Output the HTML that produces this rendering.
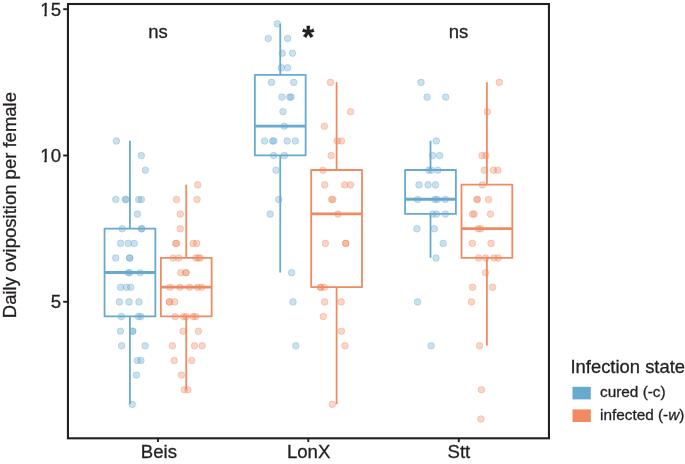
<!DOCTYPE html>
<html><head><meta charset="utf-8"><title>Daily oviposition per female</title>
<style>
html,body{margin:0;padding:0;background:#fff;}
body{width:685px;height:464px;overflow:hidden;font-family:"Liberation Sans",sans-serif;}
svg{display:block;will-change:transform;}
svg text{font-family:"Liberation Sans",sans-serif;fill:#231f20;stroke:#231f20;stroke-width:0.3px;}
</style></head><body>
<svg width="685" height="464" viewBox="0 0 685 464">
<rect x="0" y="0" width="685" height="464" fill="#ffffff"/>
<g stroke="#67a9cf" fill="none" stroke-width="1.8" stroke-linejoin="round"><line x1="129.95" x2="129.95" y1="140.8" y2="228.6"/><line x1="129.95" x2="129.95" y1="316.4" y2="404.2"/><rect x="104.55" y="228.6" width="50.80" height="87.8"/><line x1="104.55" x2="155.35" y1="272.5" y2="272.5" stroke-width="2.9"/></g>
<g stroke="#ef8a62" fill="none" stroke-width="1.8" stroke-linejoin="round"><line x1="186.25" x2="186.25" y1="184.7" y2="257.8"/><line x1="186.25" x2="186.25" y1="316.4" y2="389.5"/><rect x="160.85" y="257.8" width="50.80" height="58.5"/><line x1="160.85" x2="211.65" y1="287.1" y2="287.1" stroke-width="2.9"/></g>
<g stroke="#67a9cf" fill="none" stroke-width="1.8" stroke-linejoin="round"><line x1="280.25" x2="280.25" y1="23.7" y2="74.9"/><line x1="280.25" x2="280.25" y1="155.4" y2="272.5"/><rect x="254.85" y="74.9" width="50.80" height="80.5"/><line x1="254.85" x2="305.65" y1="126.1" y2="126.1" stroke-width="2.9"/></g>
<g stroke="#ef8a62" fill="none" stroke-width="1.8" stroke-linejoin="round"><line x1="336.60" x2="336.60" y1="82.2" y2="170.0"/><line x1="336.60" x2="336.60" y1="287.1" y2="404.2"/><rect x="311.20" y="170.0" width="50.80" height="117.1"/><line x1="311.20" x2="362.00" y1="213.9" y2="213.9" stroke-width="2.9"/></g>
<g stroke="#67a9cf" fill="none" stroke-width="1.8" stroke-linejoin="round"><line x1="430.50" x2="430.50" y1="140.8" y2="170.0"/><line x1="430.50" x2="430.50" y1="213.9" y2="257.8"/><rect x="405.10" y="170.0" width="50.80" height="43.9"/><line x1="405.10" x2="455.90" y1="199.3" y2="199.3" stroke-width="2.9"/></g>
<g stroke="#ef8a62" fill="none" stroke-width="1.8" stroke-linejoin="round"><line x1="486.90" x2="486.90" y1="82.2" y2="184.7"/><line x1="486.90" x2="486.90" y1="257.8" y2="345.6"/><rect x="461.50" y="184.7" width="50.80" height="73.2"/><line x1="461.50" x2="512.30" y1="228.6" y2="228.6" stroke-width="2.9"/></g>
<g fill="#67a9cf" fill-opacity="0.35" stroke="#67a9cf" stroke-opacity="0.35" stroke-width="1.0"><circle cx="116.4" cy="141.0" r="3.3"/><circle cx="141.3" cy="155.6" r="3.3"/><circle cx="145.3" cy="170.2" r="3.3"/><circle cx="115.8" cy="199.5" r="3.3"/><circle cx="125.3" cy="199.5" r="3.3"/><circle cx="126.1" cy="199.5" r="3.3"/><circle cx="138.7" cy="199.5" r="3.3"/><circle cx="141.4" cy="199.5" r="3.3"/><circle cx="137.4" cy="214.1" r="3.3"/><circle cx="122.2" cy="228.8" r="3.3"/><circle cx="141.6" cy="228.8" r="3.3"/><circle cx="141.6" cy="228.8" r="3.3"/><circle cx="120.6" cy="243.4" r="3.3"/><circle cx="128.3" cy="243.4" r="3.3"/><circle cx="134.2" cy="243.4" r="3.3"/><circle cx="115.7" cy="258.0" r="3.3"/><circle cx="129.7" cy="258.0" r="3.3"/><circle cx="129.7" cy="258.0" r="3.3"/><circle cx="128.3" cy="272.7" r="3.3"/><circle cx="129.7" cy="272.7" r="3.3"/><circle cx="140.2" cy="272.7" r="3.3"/><circle cx="120.6" cy="287.3" r="3.3"/><circle cx="126.5" cy="287.3" r="3.3"/><circle cx="130.7" cy="287.3" r="3.3"/><circle cx="119.4" cy="301.9" r="3.3"/><circle cx="129.0" cy="301.9" r="3.3"/><circle cx="139.0" cy="301.9" r="3.3"/><circle cx="121.3" cy="316.6" r="3.3"/><circle cx="138.4" cy="316.6" r="3.3"/><circle cx="140.9" cy="316.6" r="3.3"/><circle cx="120.4" cy="331.2" r="3.3"/><circle cx="132.7" cy="331.2" r="3.3"/><circle cx="132.7" cy="331.2" r="3.3"/><circle cx="121.6" cy="345.8" r="3.3"/><circle cx="145.1" cy="345.8" r="3.3"/><circle cx="137.4" cy="360.5" r="3.3"/><circle cx="140.9" cy="360.5" r="3.3"/><circle cx="136.5" cy="375.1" r="3.3"/><circle cx="132.3" cy="404.4" r="3.3"/></g>
<g fill="#ef8a62" fill-opacity="0.35" stroke="#ef8a62" stroke-opacity="0.35" stroke-width="1.0"><circle cx="197.7" cy="184.9" r="3.3"/><circle cx="176.6" cy="199.5" r="3.3"/><circle cx="197.0" cy="199.5" r="3.3"/><circle cx="180.3" cy="214.1" r="3.3"/><circle cx="180.3" cy="228.8" r="3.3"/><circle cx="175.6" cy="243.4" r="3.3"/><circle cx="176.6" cy="243.4" r="3.3"/><circle cx="193.1" cy="243.4" r="3.3"/><circle cx="196.6" cy="243.4" r="3.3"/><circle cx="173.0" cy="258.0" r="3.3"/><circle cx="178.7" cy="258.0" r="3.3"/><circle cx="195.7" cy="258.0" r="3.3"/><circle cx="198.4" cy="258.0" r="3.3"/><circle cx="200.1" cy="258.0" r="3.3"/><circle cx="180.7" cy="272.7" r="3.3"/><circle cx="186.0" cy="272.7" r="3.3"/><circle cx="186.0" cy="272.7" r="3.3"/><circle cx="170.0" cy="287.3" r="3.3"/><circle cx="180.0" cy="287.3" r="3.3"/><circle cx="189.6" cy="287.3" r="3.3"/><circle cx="197.5" cy="287.3" r="3.3"/><circle cx="201.5" cy="287.3" r="3.3"/><circle cx="169.5" cy="301.9" r="3.3"/><circle cx="169.5" cy="301.9" r="3.3"/><circle cx="174.7" cy="301.9" r="3.3"/><circle cx="175.2" cy="316.6" r="3.3"/><circle cx="183.5" cy="316.6" r="3.3"/><circle cx="186.1" cy="316.6" r="3.3"/><circle cx="193.1" cy="316.6" r="3.3"/><circle cx="195.7" cy="316.6" r="3.3"/><circle cx="183.1" cy="331.2" r="3.3"/><circle cx="198.4" cy="331.2" r="3.3"/><circle cx="172.4" cy="345.8" r="3.3"/><circle cx="194.5" cy="345.8" r="3.3"/><circle cx="202.2" cy="345.8" r="3.3"/><circle cx="174.2" cy="360.5" r="3.3"/><circle cx="191.7" cy="360.5" r="3.3"/><circle cx="181.4" cy="375.1" r="3.3"/><circle cx="184.3" cy="389.7" r="3.3"/><circle cx="187.9" cy="389.7" r="3.3"/></g>
<g fill="#67a9cf" fill-opacity="0.35" stroke="#67a9cf" stroke-opacity="0.35" stroke-width="1.0"><circle cx="277.3" cy="23.9" r="3.3"/><circle cx="268.3" cy="38.5" r="3.3"/><circle cx="287.6" cy="38.5" r="3.3"/><circle cx="282.3" cy="53.2" r="3.3"/><circle cx="292.5" cy="53.2" r="3.3"/><circle cx="281.3" cy="67.8" r="3.3"/><circle cx="287.6" cy="67.8" r="3.3"/><circle cx="271.5" cy="82.4" r="3.3"/><circle cx="293.7" cy="82.4" r="3.3"/><circle cx="282.0" cy="97.1" r="3.3"/><circle cx="289.7" cy="97.1" r="3.3"/><circle cx="291.1" cy="97.1" r="3.3"/><circle cx="283.0" cy="111.7" r="3.3"/><circle cx="284.4" cy="126.3" r="3.3"/><circle cx="264.6" cy="141.0" r="3.3"/><circle cx="272.5" cy="141.0" r="3.3"/><circle cx="273.9" cy="141.0" r="3.3"/><circle cx="287.2" cy="141.0" r="3.3"/><circle cx="295.3" cy="141.0" r="3.3"/><circle cx="273.6" cy="155.6" r="3.3"/><circle cx="284.4" cy="155.6" r="3.3"/><circle cx="276.0" cy="170.2" r="3.3"/><circle cx="278.7" cy="199.5" r="3.3"/><circle cx="270.2" cy="214.1" r="3.3"/><circle cx="291.6" cy="272.7" r="3.3"/><circle cx="293.0" cy="301.9" r="3.3"/><circle cx="295.8" cy="345.8" r="3.3"/></g>
<g fill="#ef8a62" fill-opacity="0.35" stroke="#ef8a62" stroke-opacity="0.35" stroke-width="1.0"><circle cx="330.5" cy="82.4" r="3.3"/><circle cx="350.5" cy="111.7" r="3.3"/><circle cx="324.4" cy="126.3" r="3.3"/><circle cx="337.3" cy="141.0" r="3.3"/><circle cx="341.4" cy="141.0" r="3.3"/><circle cx="331.2" cy="155.6" r="3.3"/><circle cx="323.0" cy="170.2" r="3.3"/><circle cx="324.7" cy="184.9" r="3.3"/><circle cx="344.7" cy="184.9" r="3.3"/><circle cx="350.5" cy="184.9" r="3.3"/><circle cx="331.7" cy="199.5" r="3.3"/><circle cx="332.8" cy="199.5" r="3.3"/><circle cx="338.0" cy="214.1" r="3.3"/><circle cx="325.4" cy="243.4" r="3.3"/><circle cx="345.8" cy="243.4" r="3.3"/><circle cx="345.8" cy="243.4" r="3.3"/><circle cx="320.7" cy="287.3" r="3.3"/><circle cx="320.7" cy="287.3" r="3.3"/><circle cx="324.4" cy="287.3" r="3.3"/><circle cx="324.6" cy="301.9" r="3.3"/><circle cx="341.2" cy="301.9" r="3.3"/><circle cx="323.3" cy="316.6" r="3.3"/><circle cx="341.4" cy="331.2" r="3.3"/><circle cx="344.9" cy="345.8" r="3.3"/><circle cx="332.3" cy="404.4" r="3.3"/></g>
<g fill="#67a9cf" fill-opacity="0.35" stroke="#67a9cf" stroke-opacity="0.35" stroke-width="1.0"><circle cx="421.0" cy="82.4" r="3.3"/><circle cx="427.1" cy="97.1" r="3.3"/><circle cx="445.7" cy="97.1" r="3.3"/><circle cx="436.3" cy="141.0" r="3.3"/><circle cx="432.7" cy="155.6" r="3.3"/><circle cx="439.7" cy="155.6" r="3.3"/><circle cx="428.7" cy="170.2" r="3.3"/><circle cx="431.3" cy="170.2" r="3.3"/><circle cx="437.9" cy="170.2" r="3.3"/><circle cx="419.0" cy="184.9" r="3.3"/><circle cx="428.1" cy="184.9" r="3.3"/><circle cx="435.5" cy="184.9" r="3.3"/><circle cx="417.6" cy="199.5" r="3.3"/><circle cx="434.8" cy="199.5" r="3.3"/><circle cx="437.4" cy="199.5" r="3.3"/><circle cx="445.3" cy="199.5" r="3.3"/><circle cx="432.7" cy="214.1" r="3.3"/><circle cx="436.5" cy="214.1" r="3.3"/><circle cx="445.4" cy="214.1" r="3.3"/><circle cx="416.9" cy="228.8" r="3.3"/><circle cx="434.4" cy="228.8" r="3.3"/><circle cx="443.2" cy="243.4" r="3.3"/><circle cx="436.0" cy="258.0" r="3.3"/><circle cx="417.6" cy="301.9" r="3.3"/><circle cx="431.1" cy="345.8" r="3.3"/></g>
<g fill="#ef8a62" fill-opacity="0.35" stroke="#ef8a62" stroke-opacity="0.35" stroke-width="1.0"><circle cx="499.3" cy="82.4" r="3.3"/><circle cx="487.3" cy="111.7" r="3.3"/><circle cx="482.1" cy="155.6" r="3.3"/><circle cx="485.9" cy="155.6" r="3.3"/><circle cx="484.4" cy="170.2" r="3.3"/><circle cx="493.5" cy="170.2" r="3.3"/><circle cx="497.9" cy="170.2" r="3.3"/><circle cx="482.4" cy="184.9" r="3.3"/><circle cx="477.2" cy="199.5" r="3.3"/><circle cx="477.2" cy="199.5" r="3.3"/><circle cx="488.6" cy="199.5" r="3.3"/><circle cx="472.5" cy="214.1" r="3.3"/><circle cx="474.2" cy="214.1" r="3.3"/><circle cx="490.5" cy="214.1" r="3.3"/><circle cx="478.2" cy="228.8" r="3.3"/><circle cx="480.7" cy="228.8" r="3.3"/><circle cx="472.3" cy="243.4" r="3.3"/><circle cx="491.0" cy="243.4" r="3.3"/><circle cx="478.6" cy="258.0" r="3.3"/><circle cx="485.6" cy="258.0" r="3.3"/><circle cx="494.0" cy="258.0" r="3.3"/><circle cx="498.2" cy="258.0" r="3.3"/><circle cx="485.6" cy="272.7" r="3.3"/><circle cx="472.6" cy="287.3" r="3.3"/><circle cx="492.6" cy="287.3" r="3.3"/><circle cx="471.4" cy="301.9" r="3.3"/><circle cx="479.6" cy="345.8" r="3.3"/><circle cx="481.4" cy="389.7" r="3.3"/><circle cx="480.9" cy="419.0" r="3.3"/></g>
<rect x="67.95" y="4.0" width="481.00000000000006" height="434.3" fill="none" stroke="#231f20" stroke-width="2.1"/>
<g stroke="#231f20" stroke-width="1.9"><line x1="63.2" x2="67.2" y1="301.8" y2="301.8"/><line x1="63.2" x2="67.2" y1="155.5" y2="155.5"/><line x1="63.2" x2="67.2" y1="9.2" y2="9.2"/><line x1="158.0" x2="158.0" y1="439" y2="442.1"/><line x1="308.3" x2="308.3" y1="439" y2="442.1"/><line x1="458.8" x2="458.8" y1="439" y2="442.1"/></g>
<g font-size="18.6px" text-anchor="end"><text x="61" y="308.3">5</text><text x="61" y="162.0">10</text><text x="61" y="15.7">15</text></g>
<g fill="#ffffff"><rect x="39.4" y="13.3" width="4.9" height="4.2"/><rect x="46.7" y="13.3" width="4.3" height="4.2"/><rect x="39.4" y="159.3" width="4.9" height="4.2"/><rect x="46.7" y="159.3" width="4.3" height="4.2"/></g>
<g font-size="18.6px" text-anchor="middle"><text x="158.9" y="457.8">Beis</text><text x="308.6" y="457.8">LonX</text><text x="458.9" y="457.8">Stt</text></g>
<text font-size="18.5px" text-anchor="middle" transform="translate(16.2,205.1) rotate(-90)">Daily oviposition per female</text>
<g font-size="18.5px" text-anchor="middle"><text x="158.1" y="37.8">ns</text><text x="458.4" y="37.8">ns</text></g>
<text x="308.4" y="48.0" font-size="31px" font-weight="bold" text-anchor="middle">*</text>
<text x="570.5" y="372.8" font-size="18.4px">Infection state</text>
<rect x="572.5" y="386.8" width="18.3" height="12.6" fill="#67a9cf"/>
<rect x="572.5" y="409.4" width="18.3" height="12.6" fill="#ef8a62"/>
<g font-size="15.35px"><text x="600" y="397.3">cured (-c)</text><text x="600" y="420">infected (-<tspan font-style="italic">w</tspan>)</text></g>
</svg>
</body></html>
